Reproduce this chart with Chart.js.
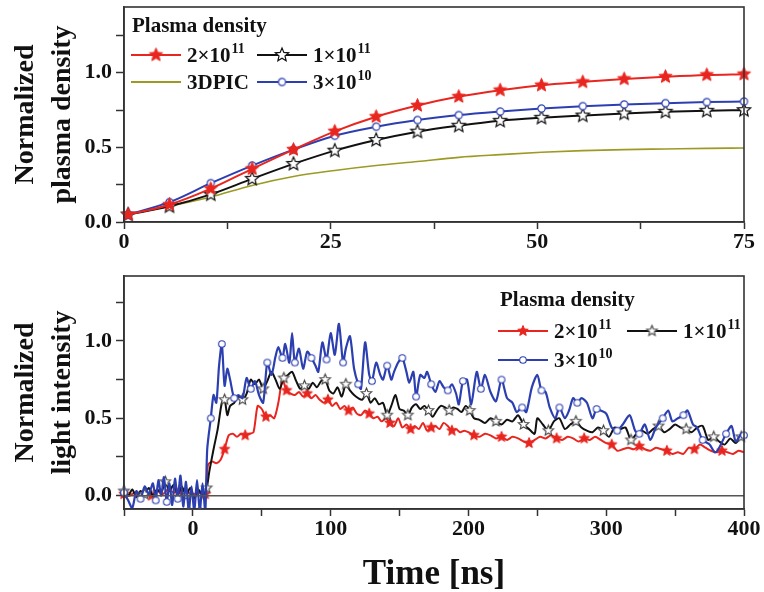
<!DOCTYPE html>
<html>
<head>
<meta charset="utf-8">
<script src="https://cdn.jsdelivr.net/npm/chart.js@4.4.1/dist/chart.umd.min.js"></script>
<style>
  html, body { margin: 0; padding: 0; background: #fff; }
  #wrap { position: relative; width: 764px; height: 592px; }
  canvas { position: absolute; left: 0; }
  #topChart { top: 0; }
  #bottomChart { top: 258px; }
</style>
</head>
<body>
<div id="wrap">
  <canvas id="topChart" width="764" height="258"></canvas>
  <canvas id="bottomChart" width="764" height="334"></canvas>
</div>
<script>
// ---- top panel: normalized plasma density vs time ----
const densT = [0.5, 5.5, 10.5, 15.5, 20.5, 25.5, 30.5, 35.5, 40.5, 45.5, 50.5, 55.5, 60.5, 65.5, 70.5, 75];
const dens2e11 = [0.05, 0.116, 0.223, 0.356, 0.485, 0.607, 0.705, 0.78, 0.84, 0.883, 0.916, 0.938, 0.958, 0.973, 0.985, 0.99];
const dens1e11 = [0.05, 0.105, 0.185, 0.289, 0.389, 0.478, 0.549, 0.605, 0.645, 0.678, 0.698, 0.713, 0.727, 0.738, 0.745, 0.749];
const dens3e10 = [0.05, 0.133, 0.26, 0.378, 0.485, 0.578, 0.638, 0.683, 0.716, 0.74, 0.76, 0.776, 0.787, 0.796, 0.803, 0.807];
const dens3dpic = [0.05, 0.105, 0.167, 0.245, 0.305, 0.345, 0.378, 0.405, 0.433, 0.451, 0.467, 0.478, 0.485, 0.489, 0.493, 0.496];

// ---- bottom panel: normalized light intensity vs time [ns] ----
const red2e11T = [-50,-46,-42,-38,-34,-30,-26,-22,-18,-14,-10,-6,-2,2,6,9,11,14,17,20,23,26,29,32,35,38,41,44,47,50,53,56,59,62,65,68,71,74,77,80,83,86,89,92,95,98,101,104,107,110,113,116,119,122,125,128,131,134,137,140,143,146,149,152,155,158,161,164,167,170,173,176,179,182,185,188,191,194,197,200,204,208,212,216,220,224,228,232,236,240,244,248,252,256,260,264,268,272,276,280,284,288,292,296,300,304,308,312,316,320,324,328,332,336,340,344,348,352,356,360,364,368,372,376,380,384,388,392,396,400];
const red2e11V = [0.01,0.0,0.02,-0.01,0.02,0.0,0.03,0.01,0.04,0.02,0.03,0.0,0.02,0.01,0.02,0.01,0.2,0.22,0.21,0.23,0.3,0.39,0.4,0.38,0.4,0.39,0.4,0.41,0.58,0.56,0.51,0.52,0.5,0.6,0.75,0.68,0.66,0.65,0.67,0.64,0.66,0.63,0.65,0.62,0.6,0.62,0.58,0.6,0.56,0.58,0.55,0.57,0.53,0.52,0.55,0.53,0.5,0.51,0.48,0.5,0.47,0.45,0.5,0.44,0.46,0.43,0.45,0.43,0.47,0.42,0.44,0.45,0.43,0.47,0.45,0.42,0.43,0.41,0.42,0.41,0.39,0.38,0.4,0.39,0.37,0.38,0.36,0.38,0.37,0.35,0.34,0.36,0.38,0.37,0.39,0.37,0.36,0.38,0.37,0.35,0.37,0.36,0.38,0.36,0.34,0.33,0.29,0.3,0.31,0.3,0.32,0.3,0.29,0.31,0.3,0.29,0.27,0.28,0.27,0.31,0.3,0.33,0.31,0.29,0.28,0.29,0.28,0.27,0.29,0.28];

const black1e11T = [-50,-47,-44,-41,-38,-35,-32,-29,-26,-23,-20,-17,-14,-11,-8,-5,-2,1,4,7,10,12,15,18,21,23,25,27,30,33,36,39,42,45,48,51,54,57,60,63,66,69,72,75,78,81,84,87,90,93,96,99,102,105,108,111,114,117,120,123,126,129,132,135,138,141,144,147,150,153,156,159,162,165,168,171,174,177,180,183,186,189,192,195,198,201,204,208,212,216,220,224,228,232,236,240,244,248,250,254,258,262,266,270,274,278,282,286,290,294,298,302,306,310,314,318,322,326,330,334,338,342,346,350,354,358,362,366,370,374,378,382,386,390,394,398,400];
const black1e11V = [0.03,0.0,0.04,-0.01,0.03,0.01,0.05,0.0,0.04,0.02,0.09,0.03,0.07,0.01,0.06,0.0,0.05,-0.02,0.04,0.0,0.05,0.16,0.3,0.43,0.6,0.62,0.52,0.58,0.6,0.64,0.62,0.66,0.75,0.72,0.75,0.69,0.74,0.8,0.75,0.69,0.76,0.78,0.8,0.74,0.69,0.71,0.69,0.73,0.7,0.74,0.75,0.68,0.66,0.7,0.64,0.72,0.68,0.65,0.63,0.62,0.66,0.6,0.63,0.59,0.6,0.52,0.58,0.65,0.56,0.55,0.52,0.57,0.59,0.56,0.58,0.55,0.51,0.55,0.58,0.57,0.55,0.57,0.56,0.54,0.58,0.55,0.5,0.49,0.47,0.5,0.48,0.46,0.49,0.48,0.52,0.46,0.43,0.4,0.5,0.46,0.42,0.48,0.5,0.43,0.46,0.48,0.44,0.42,0.41,0.44,0.42,0.38,0.44,0.43,0.44,0.36,0.4,0.42,0.4,0.43,0.45,0.41,0.43,0.46,0.44,0.43,0.41,0.44,0.45,0.36,0.38,0.35,0.33,0.37,0.34,0.38,0.37];

const blue3e10T = [-50,-47,-44,-41,-38,-35,-32,-29,-27,-25,-23,-21,-19,-17,-15,-13,-11,-9,-7,-5,-3,-1,1,3,5,7,9,10.4,13,15,17,19,21,23,25,27,30,33,36,39,42,45,48,51,54,57,60,62,65,67,70,72,74,77,80,83,86,89,91,94,97,100,103,106,109,111,114,117,120,122,125,128,130,133,136,138,141,144,146,149,152,155,157,160,162,165,168,170,173,176,179,182,185,188,191,193,196,199,202,206,209,212,216,220,224,228,232,235,239,242,246,250,253,256,259,263,266,270,273,276,279,282,286,290,293,296,300,304,308,312,317,321,324,328,332,336,341,345,348,352,356,359,363,366,370,375,379,382,387,391,394,398,400];
const blue3e10V = [0.02,-0.03,-0.08,0.03,-0.02,0.06,0.01,0.08,-0.03,0.1,0.0,0.12,-0.04,0.08,-0.06,0.11,-0.02,0.13,-0.07,0.09,-0.1,0.06,-0.1,0.1,-0.1,0.08,-0.1,0.3,0.5,0.65,0.6,0.84,0.98,0.71,0.82,0.75,0.63,0.65,0.63,0.76,0.69,0.74,0.65,0.6,0.86,0.78,0.9,0.96,0.89,0.98,0.86,1.05,0.86,0.95,0.82,0.93,0.89,0.84,0.8,0.99,0.88,1.05,0.91,1.11,0.86,0.95,1.03,0.82,0.72,0.69,0.99,0.78,0.74,0.86,0.78,0.75,0.84,0.75,0.8,0.86,0.89,0.8,0.73,0.8,0.64,0.78,0.76,0.8,0.72,0.67,0.74,0.7,0.68,0.72,0.66,0.59,0.74,0.75,0.59,0.8,0.69,0.78,0.67,0.61,0.75,0.63,0.6,0.54,0.57,0.54,0.7,0.78,0.68,0.67,0.57,0.5,0.57,0.5,0.55,0.63,0.6,0.63,0.6,0.5,0.56,0.55,0.53,0.44,0.42,0.46,0.52,0.42,0.4,0.46,0.36,0.44,0.5,0.55,0.48,0.5,0.52,0.55,0.46,0.44,0.36,0.33,0.28,0.31,0.4,0.45,0.35,0.4,0.39];

// axis ticks / labels
const topXTicks = [0, 25, 50, 75];
const bottomXTicks = [0, 100, 200, 300, 400];
const yLabelTicks = [0, 0.5, 1.0];
const legendTitle = 'Plasma density';
const seriesNames = [['2×10', '11'], ['1×10', '11'], ['3×10', '10'], ['3DPIC', '']];

const RED = '#e8261f', BLACK = '#111111', BLUE = '#2c3fb0', OLIVE = '#9c9a22';
const FONT = '"Liberation Serif", "Times New Roman", serif';

function makeStar(r, fill, stroke, lw) {
    const c = document.createElement('canvas');
    const s = Math.ceil(2 * r + lw + 2);
    c.width = s; c.height = s;
    const g = c.getContext('2d');
    g.translate(s / 2, s / 2);
    g.beginPath();
    for (let i = 0; i < 10; i++) {
        const rad = i % 2 === 0 ? r : r * 0.45;
        const a = -Math.PI / 2 + i * Math.PI / 5;
        g.lineTo(rad * Math.cos(a), rad * Math.sin(a));
    }
    g.closePath();
    g.fillStyle = fill; g.fill();
    g.lineWidth = lw; g.strokeStyle = stroke; g.stroke();
    return c;
}

function makeCircle(r, stroke, lw) {
    const c = document.createElement('canvas');
    const s = Math.ceil(2 * r + lw + 2);
    c.width = s; c.height = s;
    const g = c.getContext('2d');
    g.beginPath();
    g.arc(s / 2, s / 2, r, 0, Math.PI * 2);
    g.fillStyle = '#fff'; g.fill();
    g.lineWidth = lw; g.strokeStyle = stroke; g.stroke();
    return c;
}

const starRedBig = makeStar(7, RED, RED, 1);
const starBlackBig = makeStar(7, '#fff', BLACK, 1.2);
const circBlueBig = makeCircle(3.6, BLUE, 1.2);
const starRedSm = makeStar(5.5, RED, RED, 1);
const starBlackSm = makeStar(5.5, '#fff', '#444', 1.1);
const circBlueSm = makeCircle(3.3, BLUE, 1.1);

function pts(xs, ys) {
    return xs.map((x, i) => ({ x: x, y: ys[i] }));
}

// frame, zero line and legend drawn after the datasets
const decorPlugin = {
    id: 'decor',
    afterDatasetsDraw(chart, args, opts) {
        const { ctx, chartArea: a } = chart;
        ctx.save();
        if (opts.zeroLine) {
            const y0 = chart.scales.y.getPixelForValue(0);
            ctx.strokeStyle = '#555';
            ctx.lineWidth = 1.6;
            ctx.beginPath();
            ctx.moveTo(a.left, y0);
            ctx.lineTo(a.right, y0);
            ctx.stroke();
        }
        ctx.strokeStyle = '#333';
        ctx.lineWidth = 1.6;
        ctx.strokeRect(a.left, a.top, a.right - a.left, a.bottom - a.top);

        const lg = opts.legend;
        ctx.fillStyle = '#111';
        ctx.textBaseline = 'middle';
        ctx.font = 'bold 21px ' + FONT;
        ctx.fillText(legendTitle, lg.x, lg.y);
        lg.items.forEach(it => {
            ctx.strokeStyle = it.color;
            ctx.lineWidth = it.lw || 2;
            ctx.beginPath();
            ctx.moveTo(it.x, it.y);
            ctx.lineTo(it.x + 50, it.y);
            ctx.stroke();
            if (it.marker) {
                ctx.drawImage(it.marker, it.x + 25 - it.marker.width / 2, it.y - it.marker.height / 2);
            }
            const name = seriesNames[it.s];
            ctx.fillStyle = '#111';
            ctx.font = 'bold 21px ' + FONT;
            ctx.fillText(name[0], it.x + 56, it.y + 2);
            if (name[1]) {
                const w = ctx.measureText(name[0]).width;
                ctx.font = 'bold 14px ' + FONT;
                ctx.fillText(name[1], it.x + 56 + w + 1, it.y - 6);
            }
        });
        ctx.restore();
    }
};

function tickFont() {
    return { family: FONT, size: 22, weight: 'bold' };
}

function noPadY(s) {
    s.width = 124;
    s.paddingTop = 0;
    s.paddingBottom = 0;
}

function yScale(min, max, titleLines) {
    return {
        type: 'linear',
        min: min,
        max: max,
        afterFit: noPadY,
        ticks: {
            stepSize: 0.25,
            includeBounds: false,
            color: '#111',
            padding: 4,
            font: tickFont(),
            callback: v => (yLabelTicks.some(t => Math.abs(t - v) < 1e-6) ? v.toFixed(1) : '')
        },
        grid: { drawOnChartArea: false, tickLength: 8, tickColor: '#333', tickWidth: 1.5 },
        border: { color: '#333', width: 1.6 },
        title: {
            display: true,
            text: titleLines,
            color: '#111',
            font: { family: FONT, size: 28, weight: 'bold', lineHeight: 1.3 },
            padding: { top: 8, bottom: 0 }
        }
    };
}

new Chart(document.getElementById('topChart'), {
    type: 'line',
    data: {
        datasets: [
            { data: pts(densT, dens2e11), borderColor: RED, borderWidth: 2, pointStyle: starRedBig, pointRadius: 5 },
            { data: pts(densT, dens3e10), borderColor: BLUE, borderWidth: 2, pointStyle: circBlueBig, pointRadius: 4 },
            { data: pts(densT, dens1e11), borderColor: BLACK, borderWidth: 2, pointStyle: starBlackBig, pointRadius: 5 },
            { data: pts(densT, dens3dpic), borderColor: OLIVE, borderWidth: 1.6, pointRadius: 0 }
        ]
    },
    options: {
        responsive: false,
        animation: false,
        events: [],
        layout: { padding: { left: 0, right: 20, top: 7, bottom: 0 } },
        elements: { line: { cubicInterpolationMode: 'monotone' } },
        datasets: { line: { clip: { left: 10, right: 10, top: 10, bottom: 0 } } },
        plugins: {
            legend: { display: false },
            tooltip: { enabled: false },
            decor: {
                legend: {
                    x: 132, y: 27,
                    items: [
                        { s: 0, color: RED, marker: starRedBig, x: 131, y: 55 },
                        { s: 1, color: BLACK, marker: starBlackBig, x: 257, y: 55 },
                        { s: 3, color: OLIVE, lw: 1.8, x: 131, y: 82 },
                        { s: 2, color: BLUE, marker: circBlueBig, x: 257, y: 82 }
                    ]
                }
            }
        },
        scales: {
            x: {
                type: 'linear',
                min: 0,
                max: 75,
                afterFit: s => { s.height = 36; s.paddingLeft = 0; s.paddingRight = 0; },
                ticks: {
                    stepSize: 12.5,
                    autoSkip: false,
                    maxRotation: 0,
                    color: '#111',
                    padding: 0,
                    font: tickFont(),
                    callback: v => (topXTicks.includes(v) ? v : '')
                },
                grid: { drawOnChartArea: false, tickLength: 7, tickColor: '#333', tickWidth: 1.5 },
                border: { color: '#333', width: 1.6 }
            },
            y: yScale(0, 1.44, ['Normalized', 'plasma density'])
        }
    },
    plugins: [decorPlugin]
});

new Chart(document.getElementById('bottomChart'), {
    type: 'line',
    data: {
        datasets: [
            { data: pts(blue3e10T, blue3e10V), borderColor: BLUE, borderWidth: 2.2, pointStyle: circBlueSm,
              pointRadius: c => (c.index % 4 === 0 ? 3 : 0) },
            { data: pts(black1e11T, black1e11V), borderColor: BLACK, borderWidth: 2, pointStyle: starBlackSm,
              pointRadius: c => (c.index % 5 === 0 ? 4 : 0) },
            { data: pts(red2e11T, red2e11V), borderColor: RED, borderWidth: 2, pointStyle: starRedSm,
              pointRadius: c => (c.index % 5 === 0 ? 4 : 0) }
        ]
    },
    options: {
        responsive: false,
        animation: false,
        events: [],
        layout: { padding: { left: 0, right: 20, top: 18, bottom: 0 } },
        elements: { line: { tension: 0.25 } },
        datasets: { line: { clip: { left: 8, right: 8, top: 8, bottom: 0 } } },
        plugins: {
            legend: { display: false },
            tooltip: { enabled: false },
            decor: {
                zeroLine: true,
                legend: {
                    x: 500, y: 43,
                    items: [
                        { s: 0, color: RED, marker: starRedSm, x: 498, y: 73 },
                        { s: 1, color: BLACK, marker: starBlackSm, x: 627, y: 73 },
                        { s: 2, color: BLUE, marker: circBlueSm, x: 498, y: 102 }
                    ]
                }
            }
        },
        scales: {
            x: {
                type: 'linear',
                min: -50,
                max: 400,
                afterFit: s => { s.height = 83; s.paddingLeft = 0; s.paddingRight = 0; },
                ticks: {
                    stepSize: 50,
                    autoSkip: false,
                    maxRotation: 0,
                    color: '#111',
                    padding: 0,
                    font: tickFont(),
                    callback: v => (bottomXTicks.includes(v) ? v : '')
                },
                grid: { drawOnChartArea: false, tickLength: 7, tickColor: '#333', tickWidth: 1.5 },
                border: { color: '#333', width: 1.6 },
                title: {
                    display: true,
                    text: 'Time [ns]',
                    color: '#111',
                    font: { family: FONT, size: 35, weight: 'bold', lineHeight: 1.0 },
                    padding: { top: 0, bottom: 0 }
                }
            },
            y: yScale(-0.086, 1.419, ['Normalized', 'light intensity'])
        }
    },
    plugins: [decorPlugin]
});
</script>
</body>
</html>
